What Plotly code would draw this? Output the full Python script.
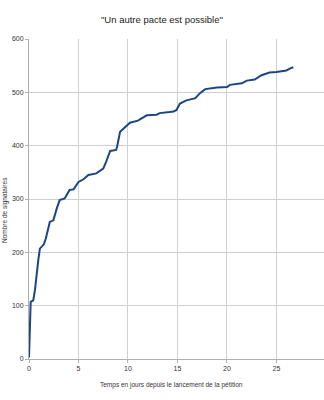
import plotly.graph_objects as go

days = [0, 0.05, 0.1, 0.17, 0.43, 0.6, 0.94, 1.1, 1.5, 1.7, 2.1, 2.46, 2.8, 3.1, 3.6, 3.8, 4.1, 4.5,
        4.7, 5.0, 5.5, 6.0, 6.8, 7.5, 7.8, 8.2, 8.8, 8.9, 9.2, 9.5, 10.2, 11.0, 11.4, 11.9, 12.9,
        13.2, 14.2, 14.6, 14.9, 15.25, 15.9, 16.8, 17.3, 17.8, 19.0, 20.0, 20.3, 21.5, 22.0,
        22.8, 23.5, 24.3, 25.0, 26.0, 26.4, 26.7]
signatures = [3, 50, 85, 107, 110, 129, 186, 207, 215, 226, 257, 260, 282, 298, 301, 308, 317, 318,
              324, 332, 337, 345, 348, 357, 370, 390, 392, 398, 426, 431, 443, 447, 452, 457, 458,
              461, 463, 464, 467, 479, 485, 489, 499, 506, 509, 510, 514, 517, 522,
              524, 532, 537, 538, 541, 545, 547]

title_text = '"Un autre pacte est possible"'
x_title = "Temps en jours depuis le lancement de la pétition"
y_title = "Nombre de signataires"

fig = go.Figure()
fig.add_trace(go.Scatter(x=days, y=signatures, mode="lines",
                         line=dict(color="#1c4587", width=2), hoverinfo="skip"))

fig.update_layout(
    width=324, height=400,
    margin=dict(l=29, r=0, t=39, b=41),
    paper_bgcolor="white", plot_bgcolor="white",
    showlegend=False,
    font=dict(family="Liberation Sans, Arial, sans-serif", color="#333"),
)
fig.update_xaxes(range=[0, 29.8], tickvals=[0, 5, 10, 15, 20, 25], showgrid=True,
                 gridcolor="#d0d0d0", gridwidth=1, showline=True, linecolor="#b0b0b0",
                 ticks="outside", ticklen=3, tickcolor="#b0b0b0",
                 tickfont=dict(size=7, color="#333"), zeroline=False)
fig.update_yaxes(range=[0, 600], tickvals=[0, 100, 200, 300, 400, 500, 600], showgrid=True,
                 gridcolor="#d0d0d0", gridwidth=1, showline=True, linecolor="#b0b0b0",
                 ticks="outside", ticklen=3, tickcolor="#b0b0b0",
                 tickfont=dict(size=7, color="#333"), zeroline=False)

fig.add_annotation(text=title_text, xref="paper", yref="paper", x=(162 - 29) / 295,
                   y=(359 - 19) / 320, showarrow=False, font=dict(size=9.5, color="#222"),
                   xanchor="center", yanchor="middle")
fig.add_annotation(text=x_title, xref="paper", yref="paper", x=(171 - 29) / 295,
                   y=(359 - 385) / 320, showarrow=False, font=dict(size=6.5, color="#333"),
                   xanchor="center", yanchor="middle")
fig.add_annotation(text=y_title, xref="paper", yref="paper", x=(5 - 29) / 295,
                   y=(359 - 210) / 320, showarrow=False, textangle=-90,
                   font=dict(size=6.5, color="#333"), xanchor="center", yanchor="middle")

fig.write_html("out.html")
